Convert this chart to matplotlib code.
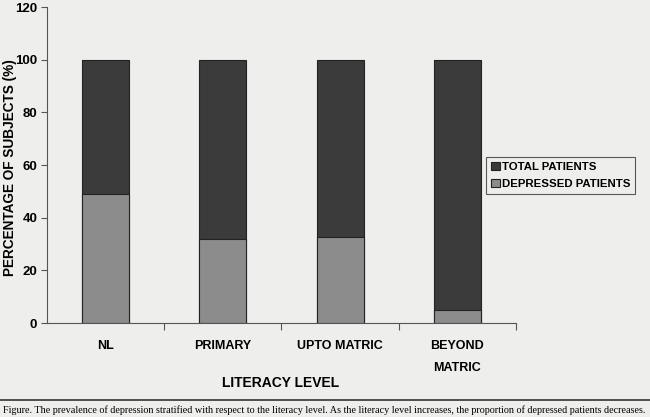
import matplotlib.pyplot as plt
import numpy as np

levels = ['NL', 'PRIMARY', 'UPTO MATRIC', 'BEYOND\nMATRIC']
total_pct = [100, 100, 100, 100]
depressed_pct = [49, 32, 32.5, 5]

caption = ('Figure. The prevalence of depression stratified with respect to the literacy level. '
           'As the literacy level increases, the proportion of depressed patients decreases.')

bg = '#eeeeec'
dark = '#3b3b3b'
light = '#8c8c8c'

plt.rcParams['font.family'] = ['Liberation Sans', 'DejaVu Sans']

fig = plt.figure(figsize=(6.5, 4.17), dpi=100, facecolor=bg)
ax = fig.add_axes([0.0723, 0.2254, 0.7215, 0.7578])
ax.set_facecolor(bg)

x = np.arange(len(levels))
ax.bar(x, total_pct, width=0.4, color=dark, edgecolor='#222222', linewidth=0.8,
       label='TOTAL PATIENTS')
ax.bar(x, depressed_pct, width=0.4, color=light, edgecolor='#222222', linewidth=0.8,
       label='DEPRESSED PATIENTS')

ax.set_xlim(-0.5, len(levels) - 0.5)
ax.set_ylim(0, 120)
ax.set_yticks(range(0, 121, 20))
ax.tick_params(axis='y', labelsize=9.5, length=4, width=0.8, pad=3, color='#555555')
for lbl in ax.get_yticklabels():
    lbl.set_fontweight('bold')

ax.set_xticks(x)
ax.set_xticklabels(levels, fontsize=9, fontweight='bold', linespacing=2.1, va='top')
ax.tick_params(axis='x', length=0, pad=12)
ax.set_xticks(np.arange(0.5, len(levels) - 0.4, 1), minor=True)
ax.tick_params(axis='x', which='minor', length=5, width=0.8, color='#555555')

for s in ['top', 'right']:
    ax.spines[s].set_visible(False)
for s in ['left', 'bottom']:
    ax.spines[s].set_color('#555555')
    ax.spines[s].set_linewidth(0.8)

# y label placed by hand, the scan has it tight against the left edge
fig.text(10.5 / 650, 1 - 168 / 417, 'PERCENTAGE OF SUBJECTS (%)', fontsize=9.8,
         fontweight='bold', rotation=90, ha='center', va='center')
fig.text(281 / 650, 1 - 383 / 417, 'LITERACY LEVEL', fontsize=10, fontweight='bold',
         ha='center', va='center')

leg = fig.legend(loc='upper left', bbox_to_anchor=(486 / 650, 1 - 157 / 417),
                 fontsize=8.2, frameon=True, fancybox=False, handlelength=0.8,
                 handleheight=0.8, handletextpad=0.2, borderpad=0.4, labelspacing=0.6,
                 borderaxespad=0)
leg.get_frame().set_edgecolor('#333333')
leg.get_frame().set_facecolor(bg)
leg.get_frame().set_linewidth(0.8)
for t in leg.get_texts():
    t.set_fontweight('bold')

fig.add_artist(plt.Line2D([0, 1], [1 - 400 / 417] * 2, color='#333333', linewidth=1.2))
fig.text(0.005, 1 - 410 / 417, caption, fontsize=7.3, family='Liberation Serif',
         ha='left', va='center')

fig.savefig('out.png', dpi=100, facecolor=bg)
